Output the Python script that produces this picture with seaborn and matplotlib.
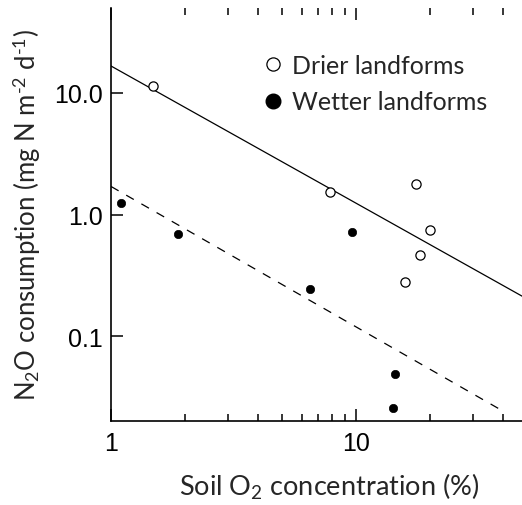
import numpy as np
import pandas as pd
import matplotlib
matplotlib.use("Agg")
import matplotlib.pyplot as plt
import seaborn as sns
from matplotlib.lines import Line2D
from matplotlib.ticker import FixedLocator, NullLocator, NullFormatter, FixedFormatter

# Data
drier_o2 = [1.49, 7.85, 17.5, 20.0, 18.2, 15.9]
drier_n2o = [11.4, 1.52, 1.79, 0.75, 0.46, 0.28]
wetter_o2 = [1.10, 1.88, 9.6, 6.5, 14.4, 14.2]
wetter_n2o = [1.25, 0.686, 0.716, 0.246, 0.049, 0.0256]
series_names = ["Drier landforms", "Wetter landforms"]
x_major = [1, 10]
x_major_labels = ["1", "10"]
x_minor = [2, 3, 4, 5, 6, 7, 8, 9, 20, 30, 40]
y_major = [0.1, 1, 10]
y_major_labels = ["0.1", "1.0", "10.0"]

sns.set_style("white")
plt.rcParams["font.family"] = ["Lato", "DejaVu Sans"]
plt.rcParams["mathtext.fontset"] = "custom"
plt.rcParams["mathtext.rm"] = "Lato"
plt.rcParams["mathtext.it"] = "Lato:italic"
plt.rcParams["mathtext.bf"] = "Lato:bold"

W, H = 522, 506
fig = plt.figure(figsize=(W / 100, H / 100), dpi=100)
ax = fig.add_axes([111 / W, (H - 422) / H, (W - 111) / W, (422 - 9) / H])
ax.set_xscale("log")
ax.set_yscale("log")

dry = pd.DataFrame({"o2": drier_o2, "n2o": drier_n2o})
wet = pd.DataFrame({"o2": wetter_o2, "n2o": wetter_n2o})

sns.scatterplot(data=dry, x="o2", y="n2o", ax=ax, marker="o", s=44,
                facecolor="white", edgecolor="black", linewidth=0.9, zorder=3)
sns.scatterplot(data=wet, x="o2", y="n2o", ax=ax, marker="o", s=36,
                color="black", edgecolor="black", linewidth=0.5, zorder=3)

# log-log regression fits
def fit(xs, ys, x0, x1):
    b, a = np.polyfit(np.log10(xs), np.log10(ys), 1)
    xx = np.array([x0, x1])
    return pd.DataFrame({"x": xx, "y": 10 ** (a + b * np.log10(xx))})

fd = fit(drier_o2, drier_n2o, 1, 60)
fw = fit(wetter_o2, wetter_n2o, 1, 40)
sns.lineplot(data=fd, x="x", y="y", ax=ax, color="black", linewidth=0.9)
sns.lineplot(data=fw, x="x", y="y", ax=ax, color="black", linewidth=0.9,
             linestyle=(0, (7, 7)))

ax.set_xlim(1, 47.6)
ax.set_ylim(0.02, 50)

for s in ["top", "right"]:
    ax.spines[s].set_visible(False)
for s in ["left", "bottom"]:
    ax.spines[s].set_color("black")
    ax.spines[s].set_linewidth(1.2)

ax.xaxis.set_major_locator(FixedLocator(x_major))
ax.xaxis.set_major_formatter(FixedFormatter(x_major_labels))
ax.xaxis.set_minor_locator(FixedLocator(x_minor))
ax.xaxis.set_minor_formatter(NullFormatter())
ax.yaxis.set_major_locator(FixedLocator(y_major))
ax.yaxis.set_major_formatter(FixedFormatter(y_major_labels))
ax.yaxis.set_minor_locator(NullLocator())

ax.tick_params(axis="x", which="both", direction="in", top=True, bottom=True,
               color="black", width=1.1)
ax.tick_params(axis="x", which="major", length=8.5, pad=7)
ax.tick_params(axis="x", which="minor", length=5)
ax.tick_params(axis="y", which="major", direction="in", left=True, length=8.5,
               width=1.1, color="black", pad=6)
for lab in ax.get_xticklabels() + ax.get_yticklabels():
    lab.set_fontfamily(["Liberation Sans", "DejaVu Sans"])
    lab.set_fontsize(18)
    lab.set_color("black")

ax.set_xlabel(r"Soil O$_{\mathrm{2}}$ concentration (%)", fontsize=19.5, labelpad=9)
ax.xaxis.set_label_coords(0.53, -0.12)
ax.set_ylabel(r"N$_{\mathrm{2}}$O consumption (mg N m$^{\text{-2}}$ d$^{\text{-1}}$)",
              fontsize=18.5, labelpad=8)

handles = [
    Line2D([], [], marker="o", linestyle="none", markersize=9.5,
           markerfacecolor="white", markeredgecolor="black", markeredgewidth=0.9),
    Line2D([], [], marker="o", linestyle="none", markersize=10.5,
           markerfacecolor="black", markeredgecolor="black"),
]
ax.legend(handles, series_names, loc="upper left", bbox_to_anchor=(245 / W, 1 - 42 / H),
          bbox_transform=fig.transFigure, frameon=False, fontsize=18,
          handletextpad=0.2, labelspacing=0.55, borderpad=0, handlelength=1.2)

fig.savefig("out.png", dpi=100)
